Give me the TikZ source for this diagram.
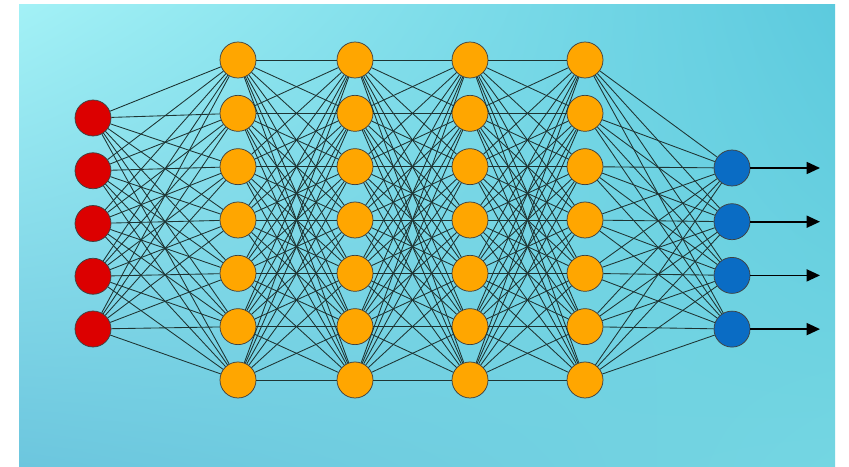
\documentclass[tikz,border=0pt]{standalone}
\usetikzlibrary{arrows.meta,shadings}
\definecolor{bgUL}{HTML}{A3F1F6}
\definecolor{bgUR}{HTML}{5CCADE}
\definecolor{bgLL}{HTML}{6CC6DE}
\definecolor{bgLR}{HTML}{74D6E2}
\definecolor{inred}{HTML}{DC0000}
\definecolor{hidorange}{HTML}{FFA600}
\definecolor{outblue}{HTML}{0A6CC4}
\definecolor{edgecol}{HTML}{1E3534}
\tikzset{
  neuron/.style={circle, draw=black!75, line width=0.55pt, minimum size=27pt, inner sep=0pt},
  innode/.style={neuron, fill=inred},
  hidnode/.style={neuron, fill=hidorange},
  outnode/.style={neuron, fill=outblue},
  conn/.style={draw=edgecol, line width=0.65pt},
  outarrow/.style={draw=black, line width=1.2pt, -{Triangle[length=10pt,width=9pt]}}
}
\begin{document}
\begin{tikzpicture}[x=0.75pt,y=-0.75pt]
\useasboundingbox (0,0) rectangle (849,467);
\fill[white] (0,0) rectangle (849,467);
\shade[upper left=bgUL, upper right=bgUR, lower left=bgLL, lower right=bgLR] (19,5) rectangle (835,466);
% nodes
\foreach \i in {1,...,5}
  \node[innode] (i\i) at (93, {118+52.75*(\i-1)}) {};
\foreach \l/\x in {1/238, 2/355, 3/470, 4/585}
  \foreach \j in {1,...,7}
    \node[hidnode] (h\l-\j) at (\x, {60+53.33*(\j-1)}) {};
\foreach \k in {1,...,4}
  \node[outnode] (o\k) at (732, {168+53.7*(\k-1)}) {};
\foreach \k in {1,...,4}
  \coordinate (e\k) at (820, {168+53.7*(\k-1)});
% connections
\foreach \i in {1,...,5}
  \foreach \j in {1,...,7}
    \draw[conn] (i\i) -- (h1-\j);
\foreach \l/\m in {1/2, 2/3, 3/4}
  \foreach \j in {1,...,7}
    \foreach \k in {1,...,7}
      \draw[conn] (h\l-\j) -- (h\m-\k);
\foreach \j in {1,...,7}
  \foreach \k in {1,...,4}
    \draw[conn] (h4-\j) -- (o\k);
\foreach \k in {1,...,4}
  \draw[outarrow] (o\k) -- (e\k);
\end{tikzpicture}
\end{document}
